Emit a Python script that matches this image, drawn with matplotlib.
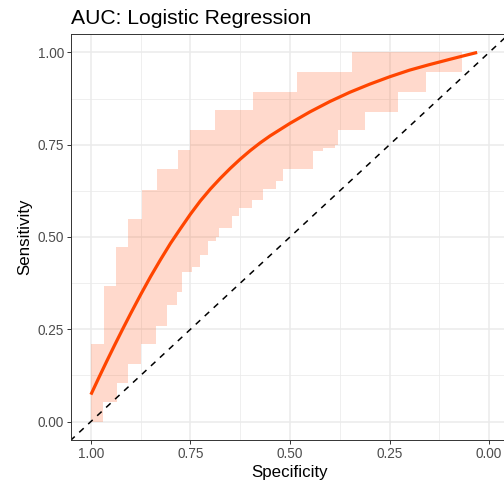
import numpy as np
import matplotlib
matplotlib.use("Agg")
import matplotlib.pyplot as plt

# ==========================================================
# DATA
# ==========================================================
title = "AUC: Logistic Regression"

# smoothed ROC curve
curve_spec = [1.00, 0.98, 0.96, 0.94, 0.92, 0.90, 0.875, 0.85, 0.825, 0.80,
              0.775, 0.75, 0.725, 0.70, 0.675, 0.65, 0.625, 0.60, 0.575,
              0.55, 0.50, 0.45, 0.40, 0.35, 0.30, 0.25, 0.20, 0.15, 0.10,
              0.06, 0.03]
curve_sens = [0.073, 0.119, 0.164, 0.208, 0.251, 0.293, 0.344, 0.393, 0.439,
              0.483, 0.523, 0.562, 0.598, 0.630, 0.659, 0.686, 0.711, 0.734,
              0.755, 0.774, 0.808, 0.839, 0.867, 0.892, 0.914, 0.934, 0.952,
              0.967, 0.981, 0.992, 1.00]

# confidence band, upper edge (step starts in specificity)
ci_hi_spec = [1.00, 0.967, 0.9375, 0.906, 0.871, 0.835, 0.781, 0.75, 0.6875,
              0.594, 0.483, 0.345]
ci_hi_sens = [0.21, 0.367, 0.474, 0.55, 0.628, 0.684, 0.737, 0.789, 0.843,
              0.894, 0.948, 1.00]

# confidence band, lower edge (step starts in specificity)
ci_lo_spec = [1.00, 0.969, 0.935, 0.906, 0.875, 0.8375, 0.808, 0.783, 0.771,
              0.746, 0.725, 0.705, 0.685, 0.679, 0.646, 0.629, 0.596, 0.567,
              0.535, 0.517, 0.4425, 0.4175, 0.3875, 0.38, 0.3125, 0.23, 0.1575]
ci_lo_sens = [0.0, 0.052, 0.104, 0.156, 0.21, 0.259, 0.315, 0.35, 0.404,
              0.42, 0.45, 0.49, 0.50, 0.525, 0.556, 0.579, 0.60, 0.63,
              0.652, 0.683, 0.733, 0.741, 0.75, 0.79, 0.84, 0.894, 0.948]
ci_end_spec = 0.067

ticks = [0.0, 0.25, 0.5, 0.75, 1.0]
tick_labels = ["0.00", "0.25", "0.50", "0.75", "1.00"]
# ==========================================================

plt.rcParams['font.family'] = ['Liberation Sans', 'DejaVu Sans']

W, H, dpi = 504, 483, 100
fig = plt.figure(figsize=(W / dpi, H / dpi), dpi=dpi)
# panel runs from x=71 to x=509 (cut off at the right), y=34 to y=440
ax = fig.add_axes([71 / W, 1 - 440 / H, 438 / W, 406 / H])

# merge both step edges on one specificity grid
grid_spec = np.union1d(np.union1d(ci_hi_spec, ci_lo_spec), [ci_end_spec])[::-1]


def step_value(grid, starts, values):
    starts = np.asarray(starts)
    values = np.asarray(values)
    idx = np.array([np.where(starts >= g - 1e-9)[0][-1] for g in grid])
    return values[idx]


band_hi = step_value(grid_spec, ci_hi_spec, ci_hi_sens)
band_lo = step_value(grid_spec, ci_lo_spec, ci_lo_sens)

# grid lines
for v in ticks:
    ax.axvline(v, color='#EBEBEB', lw=1.1, zorder=0)
    ax.axhline(v, color='#EBEBEB', lw=1.1, zorder=0)
for v in [0.125, 0.375, 0.625, 0.875]:
    ax.axvline(v, color='#EBEBEB', lw=0.55, zorder=0)
    ax.axhline(v, color='#EBEBEB', lw=0.55, zorder=0)

ax.fill_between(grid_spec, band_lo, band_hi, step='post',
                color='#FF4500', alpha=0.2, lw=0, zorder=1)
ax.axline((1, 0), (0, 1), color='black', lw=1.1, ls=(0, (4, 4)), zorder=2)
ax.plot(curve_spec, curve_sens, color='#FF4500', lw=2.3,
        solid_capstyle='butt', solid_joinstyle='round', zorder=3)

ax.set_xlim(1.05, -0.05)
ax.set_ylim(-0.05, 1.05)
ax.set_xticks(ticks)
ax.set_xticklabels(tick_labels)
ax.set_yticks(ticks)
ax.set_yticklabels(tick_labels)
ax.tick_params(length=3, width=0.7, color='#333333', labelcolor='#4D4D4D',
               labelsize=9.8, pad=2)
for s in ax.spines.values():
    s.set_color('#333333')
    s.set_linewidth(0.7)

ax.set_xlabel("Specificity", fontsize=12.2, labelpad=3)
ax.set_ylabel("Sensitivity", fontsize=12.2, labelpad=4)

fig.text(71 / W, 1 - 23.5 / H, title, fontsize=15.2, ha='left', va='baseline')

fig.savefig("out.png", dpi=dpi)
